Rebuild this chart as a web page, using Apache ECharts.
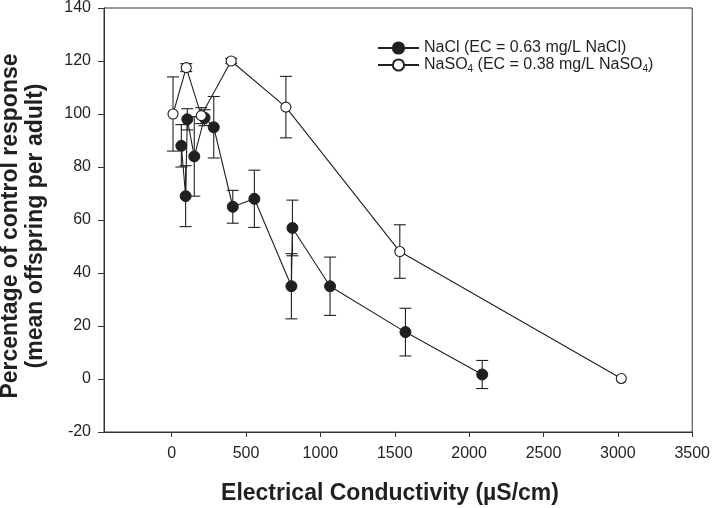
<!DOCTYPE html>
<html>
<head>
<meta charset="utf-8">
<script src="https://cdn.jsdelivr.net/npm/echarts@6/dist/echarts.min.js"></script>
<style>
html,body{margin:0;padding:0;background:#fff;}
#chart{width:713px;height:508px;}
</style>
</head>
<body>
<div id="chart"></div>
<script>
// ---- Data ----
const naclX   = [65, 94, 105, 152, 221, 283, 411, 556, 805, 812, 1065, 1572, 2088];
const naclY   = [88, 69, 98, 84, 98.6, 95, 65, 68, 35, 57, 35, 17.7, 1.7];
const naclErr = [8, 11.5, 4, 15, 3, 11.6, 6.2, 10.8, 12.3, 10.5, 11, 9, 5.3];

const naso4X   = [9, 98, 199, 400, 768, 1534, 3023];
const naso4Y   = [100, 117.5, 99.4, 120, 102.6, 48.1, 0.2];
const naso4Err = [14, 1.5, 3, 1, 11.6, 10.1, 0];

const xTicks = [0, 500, 1000, 1500, 2000, 2500, 3000, 3500];
const yTicks = [-20, 0, 20, 40, 60, 80, 100, 120, 140];

const seriesNames = ['NaCl (EC = 0.63 mg/L NaCl)', 'NaSO4 (EC = 0.38 mg/L NaSO4)'];
const xTitle = 'Electrical Conductivity (µS/cm)';
const yTitle = 'Percentage of control response\n(mean offspring per adult)';

// ---- Build ----
const FONT = '"Liberation Sans", Arial, sans-serif';
const INK = '#231f20';

function pts(xs, ys) { return xs.map((x, i) => [x, ys[i]]); }
function errs(xs, ys, es) { return xs.map((x, i) => [x, ys[i] - es[i], ys[i] + es[i]]); }

function renderErr(params, api) {
  const x = api.value(0), lo = api.value(1), hi = api.value(2);
  if (hi - lo <= 0) return null;
  const a = api.coord([x, hi]), b = api.coord([x, lo]);
  const w = 6;
  const st = { stroke: INK, lineWidth: 1.1 };
  return {
    type: 'group',
    children: [
      { type: 'line', shape: { x1: a[0], y1: a[1], x2: b[0], y2: b[1] }, style: st },
      { type: 'line', shape: { x1: a[0] - w, y1: a[1], x2: a[0] + w, y2: a[1] }, style: st },
      { type: 'line', shape: { x1: b[0] - w, y1: b[1], x2: b[0] + w, y2: b[1] }, style: st }
    ]
  };
}

const chart = echarts.init(document.getElementById('chart'), null, { renderer: 'canvas' });

chart.setOption({
  animation: false,
  backgroundColor: '#fff',
  textStyle: { fontFamily: FONT },
  grid: {
    left: 104, right: 19, top: 6, bottom: 76,
    show: true, borderColor: '#333', borderWidth: 1, backgroundColor: 'transparent'
  },
  legend: {
    data: seriesNames,
    orient: 'vertical',
    left: 372, top: 35,
    itemWidth: 41, itemHeight: 14, itemGap: 1,
    textStyle: {
      fontFamily: FONT, fontSize: 16, color: INK,
      rich: {
        n: { fontFamily: FONT, fontSize: 16, color: INK },
        s: { fontFamily: FONT, fontSize: 10, color: INK, verticalAlign: 'bottom', padding: [9, 0, 0, 0] }
      }
    },
    formatter: function (name) {
      if (name.indexOf('NaSO4') === 0) {
        return '{n|NaSO}{s|4}{n| (EC = 0.38 mg/L NaSO}{s|4}{n|)}';
      }
      return '{n|' + name + '}';
    }
  },
  xAxis: {
    type: 'value',
    min: -455, max: 3500,
    splitLine: { show: false },
    axisLine: { show: true, onZero: false, lineStyle: { color: '#333', width: 1 } },
    axisTick: { show: true, inside: false, length: 5, customValues: xTicks, lineStyle: { color: '#333' } },
    axisLabel: {
      customValues: xTicks, margin: 14, fontSize: 16, color: INK, fontFamily: FONT,
      formatter: function (v) { return String(v); }
    }
  },
  yAxis: {
    type: 'value',
    min: -20, max: 140, interval: 20,
    splitLine: { show: false },
    axisLine: { show: true, onZero: false, lineStyle: { color: '#333', width: 1 } },
    axisTick: { show: true, inside: false, length: 6, lineStyle: { color: '#333' } },
    axisLabel: { margin: 13, fontSize: 16, color: INK, fontFamily: FONT,
      formatter: function (v) { return String(v); } }
  },
  graphic: [
    {
      type: 'text', x: 23, y: 226, rotation: Math.PI / 2,
      style: {
        text: yTitle, fontFamily: FONT, fontSize: 23, fontWeight: 'bold', fill: INK,
        align: 'center', verticalAlign: 'middle', lineHeight: 25
      }
    },
    {
      type: 'text', x: 390, y: 494,
      style: {
        text: xTitle, fontFamily: FONT, fontSize: 23, fontWeight: 'bold', fill: INK,
        align: 'center', verticalAlign: 'middle'
      }
    }
  ],
  series: [
    {
      name: 'errNaCl', type: 'custom', renderItem: renderErr, z: 1,
      data: errs(naclX, naclY, naclErr), encode: { x: 0, y: [1, 2] }, silent: true
    },
    {
      name: 'errNaSO4', type: 'custom', renderItem: renderErr, z: 1,
      data: errs(naso4X, naso4Y, naso4Err), encode: { x: 0, y: [1, 2] }, silent: true
    },
    {
      name: seriesNames[0], type: 'line', z: 3,
      data: pts(naclX, naclY),
      symbol: 'circle', symbolSize: 11, showAllSymbol: true,
      lineStyle: { color: INK, width: 1.1 },
      itemStyle: { color: INK, borderColor: INK, borderWidth: 1 }
    },
    {
      name: seriesNames[1], type: 'line', z: 4,
      data: pts(naso4X, naso4Y),
      symbol: 'circle', symbolSize: 10, showAllSymbol: true,
      lineStyle: { color: INK, width: 1.1 },
      itemStyle: { color: '#fff', borderColor: INK, borderWidth: 1.1 }
    }
  ]
});
</script>
</body>
</html>
